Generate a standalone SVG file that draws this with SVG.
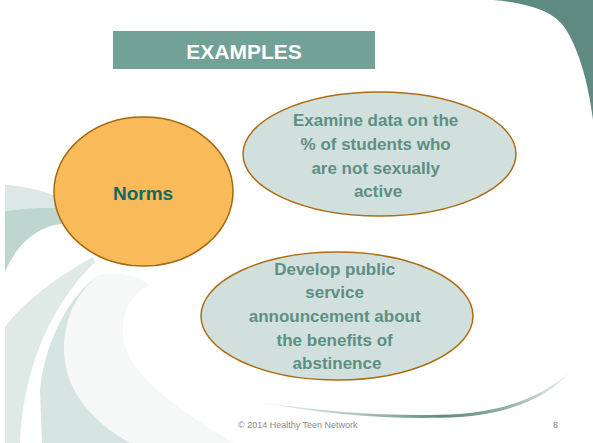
<svg xmlns="http://www.w3.org/2000/svg" width="593" height="443" viewBox="0 0 593 443">
  <defs>
    <linearGradient id="swoosh" x1="253" y1="0" x2="570" y2="0" gradientUnits="userSpaceOnUse">
      <stop offset="0" stop-color="#f2f5f4"/>
      <stop offset="0.3" stop-color="#b5ccc6"/>
      <stop offset="0.6" stop-color="#5e8a80"/>
      <stop offset="0.8" stop-color="#8fb0a7"/>
      <stop offset="1" stop-color="#f3f6f5"/>
    </linearGradient>
    <style>
      .lbl { font-family: "Liberation Sans", Arial, sans-serif; font-weight: bold; text-anchor: middle; }
      .ex { fill: #d1e0dc; stroke: #ad6d14; stroke-width: 1.5; }
      .extxt { fill: #5d8f84; font-size: 17px; }
      .foot { font-family: "Liberation Sans", Arial, sans-serif; font-size: 9px; fill: #8c8c8c; }
    </style>
  </defs>
  <rect width="593" height="443" fill="#ffffff"/>

  <!-- background decorations -->
  <g id="background">
    <path d="M493,0 C530,3 555,12 565,28 C578,48 588,80 593,120 L593,0 Z" fill="#5e8a80"/>
    <path d="M5,185 C25,186 45,191 60,198 L60,208 C45,207 25,208 5,211 Z" fill="#dce8e5"/>
    <path d="M5,211 C25,208 45,207 60,208 L62,224 C35,226 15,248 5,272 Z" fill="#bdd6d0"/>
    <path d="M93,257 C60,275 25,300 5,327 L5,443 L20,443 C22,380 45,310 95,262 Z" fill="#dfeae7"/>
    <path d="M95,276 C110,271 135,273 150,285 C128,295 118,320 125,345 C135,380 180,410 233,443 L130,443 C90,420 65,390 64,350 C64,320 75,295 95,276 Z" fill="#f6f7f7"/>
    <path d="M97,277 C70,295 45,340 40,390 L42,443 L130,443 C90,420 65,390 64,350 C64,320 75,295 97,277 Z" fill="#d6e5e1"/>
    <path d="M253,401 C330,413 400,417 460,414 C510,410 545,394 570,372 C548,397 512,413 460,417 C400,420 330,416 253,401 Z" fill="url(#swoosh)"/>
  </g>

  <g id="header">
    <rect x="113" y="31" width="262" height="38" fill="#72a195"/>
    <text class="lbl" x="244" y="59" font-size="21" fill="#ffffff">EXAMPLES</text>
  </g>

  <g id="connectors"></g>

  <g id="norms">
    <ellipse cx="143.5" cy="191.5" rx="89.5" ry="74.5" fill="#f9bb5a" stroke="#a8680f" stroke-width="1.5"/>
    <text class="lbl" x="143" y="200" font-size="19" fill="#0e6a63">Norms</text>
  </g>

  <g id="example1">
    <ellipse class="ex" cx="379.5" cy="154" rx="136.5" ry="62"/>
    <text class="lbl extxt" x="378">
      <tspan x="378" y="126">Examine data on the</tspan>
      <tspan x="378" y="150">% of students who</tspan>
      <tspan x="378" y="174">are not sexually</tspan>
      <tspan x="378" y="197">active</tspan>
    </text>
  </g>

  <g id="example2">
    <ellipse class="ex" cx="337" cy="316" rx="136" ry="64"/>
    <text class="lbl extxt" x="337">
      <tspan x="337" y="275">Develop public</tspan>
      <tspan x="337" y="298">service</tspan>
      <tspan x="337" y="322">announcement about</tspan>
      <tspan x="337" y="346">the benefits of</tspan>
      <tspan x="337" y="369">abstinence</tspan>
    </text>
  </g>

  <g id="footer">
    <text class="foot" x="238" y="428">© 2014  Healthy Teen Network</text>
    <text class="foot" x="553" y="428">8</text>
  </g>
</svg>
